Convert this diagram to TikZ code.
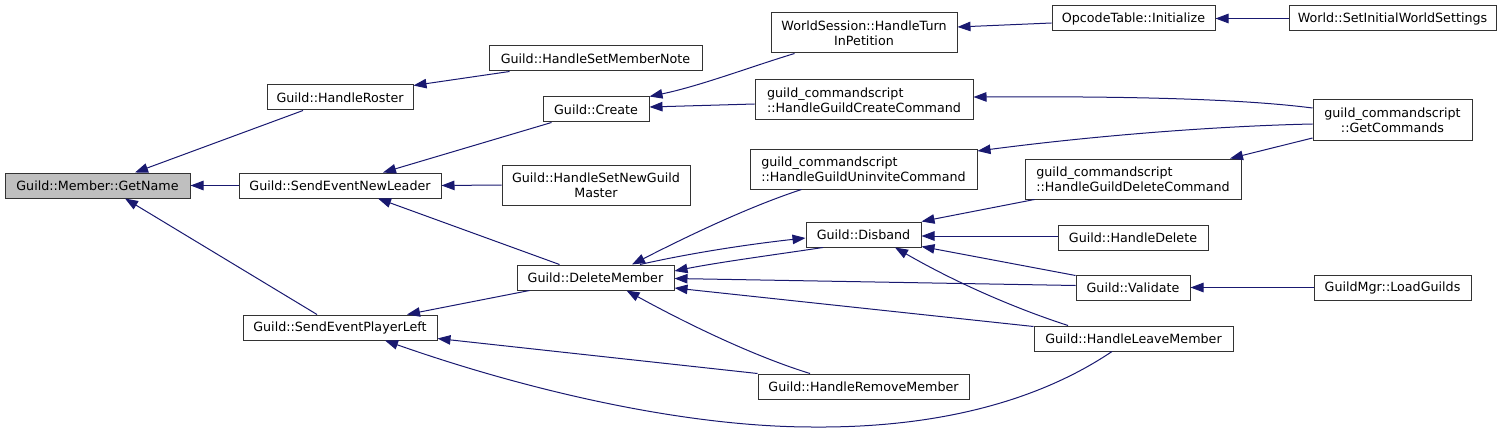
\documentclass[tikz,border=0pt]{standalone}
\usepackage{fontspec}
\setmainfont{DejaVu Sans}
\usetikzlibrary{arrows.meta}
\definecolor{edgeblue}{HTML}{191970}
\definecolor{boxline}{HTML}{333333}
\definecolor{hilite}{HTML}{BFBFBF}
\tikzset{
  fn/.style={draw=boxline, line width=1pt, fill=white, inner sep=0pt, minimum height=25pt,
    font=\fontsize{12.7}{15}\selectfont, align=center},
  fnl/.style={fn, align=left},
  call/.style={draw=edgeblue, line width=1pt, {Triangle[length=13pt,width=9.5pt]}-},
}
\begin{document}
\begin{tikzpicture}[x=1pt,y=-1pt]
\useasboundingbox (0,0) rectangle (1501,433);
% nodes
\node[fn, fill=hilite, minimum width=185pt] (gn) at (97.5,185.5) {Guild::Member::GetName};
\node[fn, minimum width=146pt] (hr) at (340,97.5) {Guild::HandleRoster};
\node[fn, minimum width=202pt] (senl) at (340,185.5) {Guild::SendEventNewLeader};
\node[fn, minimum width=194pt] (sepl) at (340,327.5) {Guild::SendEventPlayerLeft};
\node[fn, minimum width=213pt] (hsmn) at (595.5,58.5) {Guild::HandleSetMemberNote};
\node[fn, minimum width=106pt] (cr) at (596,109.5) {Guild::Create};
\node[fn, minimum width=188pt, minimum height=40pt] (hsngm) at (596,185) {Guild::HandleSetNewGuild\\Master};
\node[fn, minimum width=157pt] (dm) at (595.5,277.5) {Guild::DeleteMember};
\node[fn, minimum width=186pt, minimum height=40pt] (ws) at (864,33) {WorldSession::HandleTurn\\InPetition};
\node[fnl, minimum width=218pt, minimum height=40pt] (hgcc) at (864,100) {guild\_commandscript\\::HandleGuildCreateCommand};
\node[fnl, minimum width=227pt, minimum height=40pt] (hguc) at (863.5,169) {guild\_commandscript\\::HandleGuildUninviteCommand};
\node[fn, minimum width=115pt] (db) at (863.5,234.5) {Guild::Disband};
\node[fn, minimum width=211pt] (hrm) at (863.5,386.5) {Guild::HandleRemoveMember};
\node[fn, minimum width=163pt] (ot) at (1133.5,18.5) {OpcodeTable::Initialize};
\node[fn, minimum width=207pt] (wsiws) at (1392.5,18.5) {World::SetInitialWorldSettings};
\node[fn, minimum width=159pt, minimum height=40pt] (gc) at (1392.5,120) {guild\_commandscript\\::GetCommands};
\node[fnl, minimum width=216pt, minimum height=40pt] (hgdc) at (1133,179) {guild\_commandscript\\::HandleGuildDeleteCommand};
\node[fn, minimum width=150pt] (hd) at (1133,237.5) {Guild::HandleDelete};
\node[fn, minimum width=114pt] (val) at (1133,287.5) {Guild::Validate};
\node[fn, minimum width=157pt] (lg) at (1392.5,287.5) {GuildMgr::LoadGuilds};
\node[fn, minimum width=199pt] (hlm) at (1133.5,338.5) {Guild::HandleLeaveMember};
% connectors
\draw[call] ([xshift=37.5]gn.north) -- ([xshift=-37]hr.south);
\draw[call] (gn.east) -- (senl.west);
\draw[call] ([xshift=27.5]gn.south) -- ([xshift=-23]sepl.north);
\draw[call] ([yshift=-1]hr.north east) -- ([xshift=21]hsmn.south west);
\draw[call] ([xshift=43]senl.north) -- ([xshift=9]cr.south west);
\draw[call] (senl.east) -- (hsngm.west);
\draw[call] ([xshift=38]senl.south) -- ([xshift=43]dm.north west);
\draw[call] ([xshift=67]sepl.north) -- ([xshift=13]dm.south west);
\draw[call] ([yshift=2]sepl.south east) -- (hrm.north west);
\draw[call] ([xshift=45]sepl.south) .. controls (520,388) and (680,427) .. (813,427)
  .. controls (940,428) and (1040,400) .. ([xshift=-21.5]hlm.south);
\draw[call] (cr.north east) .. controls (700,86) and (750,67) .. ([xshift=24]ws.south west);
\draw[call] ([yshift=2.5]cr.east) -- ([yshift=-4]hgcc.west);
\draw[call] ([yshift=6]ws.east) -- ([yshift=-4.5]ot.west);
\draw[call] (ot.east) -- (wsiws.west);
\draw[call] ([yshift=3]hgcc.east) .. controls (1150,96) and (1250,100) .. ([yshift=12]gc.west);
\draw[call] ([yshift=18]hguc.east) .. controls (1100,135) and (1220,126) .. ([yshift=-4]gc.west);
\draw[call] ([xshift=97]hgdc.north) -- ([yshift=-18]gc.west);
\draw[call] ([xshift=36.5]dm.north) .. controls (680,240) and (745,208) .. ([xshift=-62]hguc.south);
\draw[call] ([yshift=-3.5]db.west) .. controls (760,243) and (700,251) .. ([xshift=44.5]dm.north);
\draw[call] ([yshift=6.5]dm.east) .. controls (720,262) and (780,254) .. ([xshift=-40.5]db.south);
\draw[call] ([yshift=-1]dm.east) -- ([yshift=2]val.west);
\draw[call] ([yshift=-10.5]dm.east) -- ([yshift=-1]hlm.north west);
\draw[call] ([xshift=31]dm.south) .. controls (680,320) and (750,355) .. ([xshift=-53.5]hrm.north);
\draw[call] (db.north east) -- ([xshift=10]hgdc.south west);
\draw[call] ([yshift=-1.5]db.east) -- ([yshift=1.5]hd.west);
\draw[call] ([yshift=-12]db.east) -- ([yshift=-1]val.north west);
\draw[call] ([xshift=31.5]db.south) .. controls (960,285) and (1020,310) .. ([xshift=-65.5]hlm.north);
\draw[call] (val.east) -- (lg.west);
\end{tikzpicture}
\end{document}
